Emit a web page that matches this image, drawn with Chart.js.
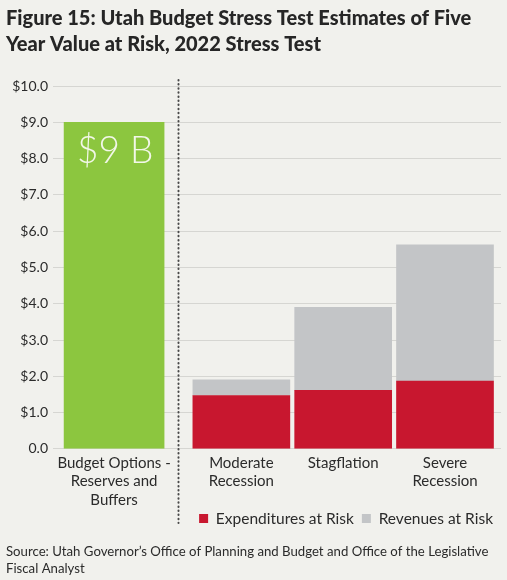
<!DOCTYPE html>
<html>
<head>
<meta charset="utf-8">
<script src="https://cdn.jsdelivr.net/npm/chart.js@4/dist/chart.umd.min.js"></script>
<style>
  html, body { margin: 0; padding: 0; background: #f1f1ed; }
  #wrap { width: 507px; height: 580px; }
</style>
</head>
<body>
<div id="wrap"><canvas id="chartStress"></canvas></div>
<script>
// Categorias y valores (miles de millones de dolares)
const categories = [
    ['Budget Options -', 'Reserves and', 'Buffers'],
    ['Moderate', 'Recession'],
    ['Stagflation'],
    ['Severe', 'Recession']
];
const reservesAndBuffers = [9.0, null, null, null];
const expendituresAtRisk = [null, 1.47, 1.61, 1.87];
const revenuesAtRisk = [null, 0.43, 2.29, 3.75];
const yTicks = [0, 1, 2, 3, 4, 5, 6, 7, 8, 9, 10];

// El primer grupo va separado del resto por la linea punteada
const slot = i => i + (i > 0 ? 0.25 : 0);
const toPoints = arr => arr.map((v, i) => ({ x: slot(i), y: v }));

const fontFamily = 'Lato, "Open Sans", sans-serif';
const textColor = '#2b2b2b';

// Linea punteada vertical entre reservas y escenarios
const dividerLine = {
    id: 'dividerLine',
    beforeDatasetsDraw(chart) {
        const { ctx, scales } = chart;
        const x = Math.round(scales.x.getPixelForValue(0.63)) + 0.5;
        ctx.save();
        ctx.strokeStyle = '#4a4a4a';
        ctx.lineWidth = 2;
        ctx.lineCap = 'round';
        ctx.setLineDash([0.5, 3.6]);
        ctx.beginPath();
        ctx.moveTo(x, 80);
        ctx.lineTo(x, 523);
        ctx.stroke();
        ctx.restore();
    }
};

// Etiqueta dentro de la barra verde
const barLabel = {
    id: 'barLabel',
    afterDatasetsDraw(chart) {
        const bar = chart.getDatasetMeta(0).data[0];
        const value = reservesAndBuffers[0];
        const { ctx } = chart;
        ctx.save();
        ctx.fillStyle = '#f2f7e8';
        ctx.font = '300 37px ' + fontFamily;
        ctx.textAlign = 'center';
        ctx.textBaseline = 'middle';
        ctx.fillText('$' + value + ' B', bar.x + 1, bar.y + 29);
        ctx.restore();
    }
};

const ctxStress = document.getElementById('chartStress').getContext('2d');
new Chart(ctxStress, {
    type: 'bar',
    data: {
        datasets: [{
            label: 'Reserves and Buffers',
            data: toPoints(reservesAndBuffers),
            backgroundColor: '#8cc63f',
            barThickness: 100,
            stack: 'a'
        }, {
            label: 'Expenditures at Risk',
            data: toPoints(expendituresAtRisk),
            backgroundColor: '#c8172f',
            barThickness: 97,
            stack: 'a'
        }, {
            label: 'Revenues at Risk',
            data: toPoints(revenuesAtRisk),
            backgroundColor: '#c3c5c7',
            barThickness: 97,
            stack: 'a'
        }]
    },
    options: {
        responsive: true,
        maintainAspectRatio: false,
        animation: false,
        layout: { padding: { left: 6, right: 6, top: 0, bottom: 2 } },
        scales: {
            x: {
                type: 'linear',
                stacked: true,
                offset: false,
                min: -0.6,
                max: 3.8,
                grid: { display: false, drawTicks: false, offset: false },
                border: { display: false },
                afterBuildTicks(scale) {
                    scale.ticks = categories.map((c, i) => ({ value: slot(i) }));
                },
                afterFit(scale) {
                    // la tercera linea de la etiqueta queda junto a la leyenda
                    scale.height = 54;
                    scale._computeLabelArea = () => undefined;
                },
                ticks: {
                    autoSkip: false,
                    maxRotation: 0,
                    padding: 5,
                    color: textColor,
                    font: { family: fontFamily, size: 15, lineHeight: 1.23 },
                    callback: (value, index) => categories[index]
                }
            },
            y: {
                stacked: true,
                min: 0,
                max: 10,
                afterBuildTicks(scale) {
                    scale.ticks = yTicks.map(v => ({ value: v }));
                },
                afterFit(scale) { scale.width = 47; },
                grid: { color: '#d6d6d2', drawTicks: false },
                border: { display: false },
                ticks: {
                    padding: 5,
                    color: textColor,
                    font: { family: fontFamily, size: 14 },
                    callback: v => v === 0 ? '0.0' : '$' + v.toFixed(1)
                }
            }
        },
        plugins: {
            title: {
                display: true,
                align: 'start',
                text: ['Figure 15: Utah Budget Stress Test Estimates of Five', 'Year Value at Risk, 2022 Stress Test'],
                color: '#262626',
                font: { family: fontFamily, size: 20, weight: '900', lineHeight: 1.3 },
                padding: { top: 6, bottom: 28 }
            },
            subtitle: {
                display: true,
                position: 'bottom',
                align: 'start',
                text: ['Source: Utah Governor\u2019s Office of Planning and Budget and Office of the Legislative', 'Fiscal Analyst'],
                color: textColor,
                font: { family: fontFamily, size: 13.2, lineHeight: 1.35 },
                padding: { top: 6, bottom: 0 }
            },
            legend: {
                position: 'bottom',
                align: 'end',
                labels: {
                    filter: item => item.datasetIndex > 0,
                    boxWidth: 9,
                    boxHeight: 9,
                    color: textColor,
                    padding: 8,
                    font: { family: fontFamily, size: 15.5 }
                }
            },
            tooltip: { enabled: false }
        }
    },
    plugins: [dividerLine, barLabel]
});
</script>
</body>
</html>
